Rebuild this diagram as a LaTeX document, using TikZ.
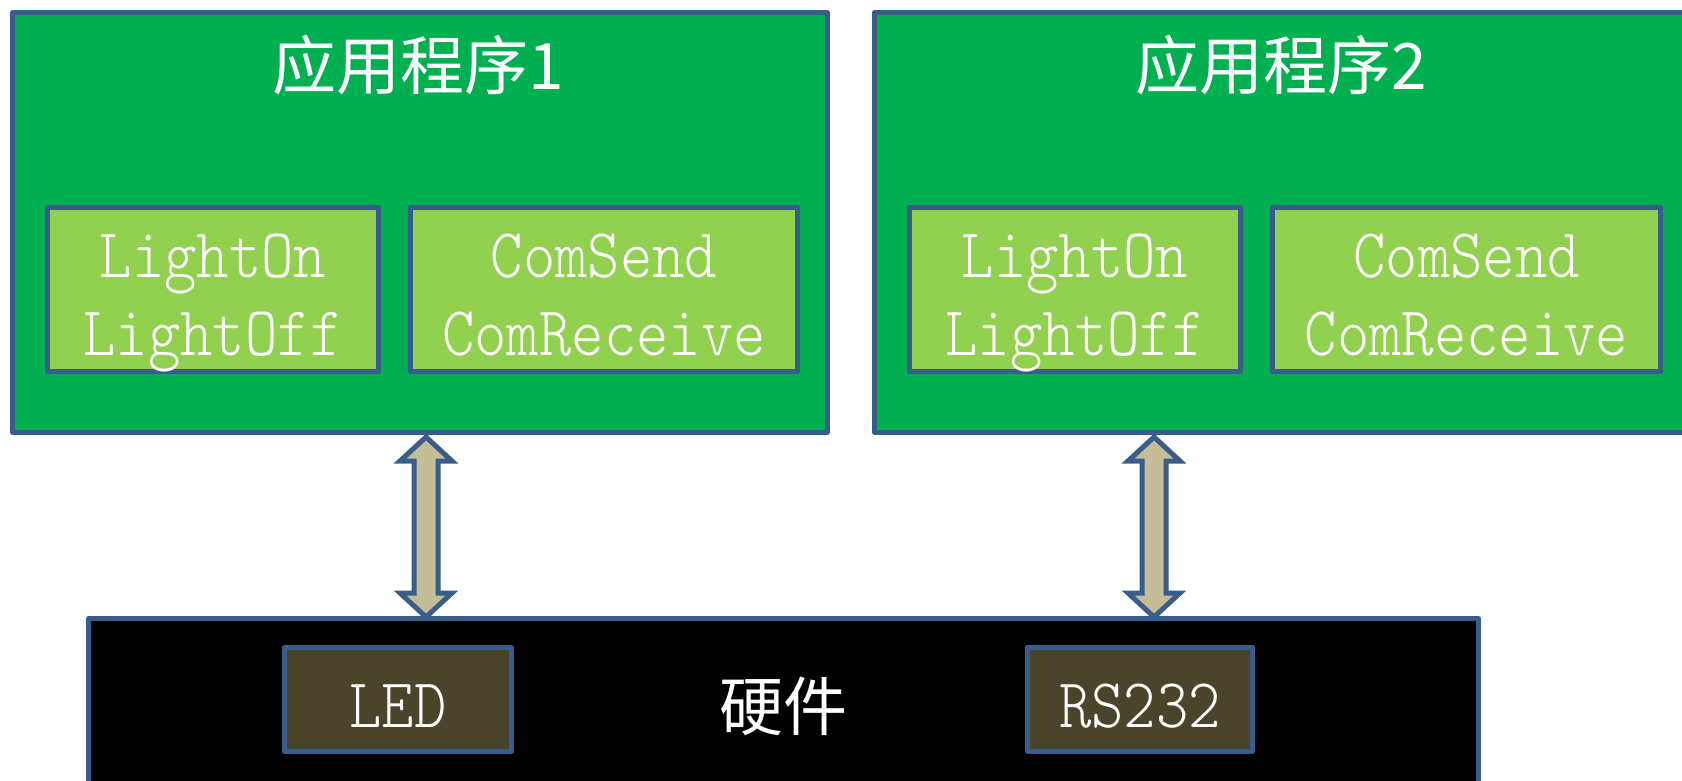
\documentclass[tikz,border=0pt]{standalone}
\usepackage{fontspec}
\newfontfamily\cjk{Noto Sans CJK SC}
\newfontfamily\monofont{Latin Modern Mono Light}[FakeStretch=0.88]
\usetikzlibrary{calc}

\definecolor{edgeblue}{HTML}{385D8A}
\definecolor{appgreen}{HTML}{00B050}
\definecolor{funcgreen}{HTML}{92D050}
\definecolor{arrowtan}{HTML}{C4BD97}
\definecolor{devolive}{HTML}{4A452A}

\tikzset{
  boxbase/.style={draw=edgeblue, line width=2.5pt, line join=round,
    inner sep=0pt, outer sep=0pt, rectangle},
  appbox/.style={boxbase, fill=appgreen},
  funcbox/.style={boxbase, fill=funcgreen},
  hwbox/.style={boxbase, fill=black},
  devbox/.style={boxbase, fill=devolive},
  titletext/.style={text=white, inner sep=0pt, font=\cjk\fontsize{32}{36}\selectfont},
  codetext/.style={text=white, inner sep=0pt, anchor=base,
    font=\monofont\fontsize{35}{40}\selectfont},
  linkarrow/.style={draw=edgeblue, fill=arrowtan, line width=2.5pt, line join=miter},
  pics/dblarrow/.style={code={
    \draw[linkarrow] (0,0) -- ++(26,24) -- ++(-14,0) -- ++(0,132) -- ++(14,0)
      -- ++(-26,24) -- ++(-26,-24) -- ++(14,0) -- ++(0,-132) -- ++(-14,0) -- cycle;
  }}
}

\begin{document}
\begin{tikzpicture}[x=0.5pt, y=-0.5pt]
\useasboundingbox (0,0) rectangle (1682,781);

% application blocks
\node[appbox, minimum width=407.25pt, minimum height=210pt] (app1) at (419.75,222.5) {};
\node[appbox, minimum width=407pt, minimum height=210pt] (app2) at (1281.5,222.5) {};
\node[titletext] (app1title) at (418,65) {应用程序1};
\node[titletext] (app2title) at (1281,65) {应用程序2};

% function blocks inside the applications
\node[funcbox, minimum width=165.5pt, minimum height=82pt] (led1) at (213,289.5) {};
\node[funcbox, minimum width=193.5pt, minimum height=82pt] (com1) at (604,289.5) {};
\node[funcbox, minimum width=165.5pt, minimum height=82pt] (led2) at (1075,289.5) {};
\node[funcbox, minimum width=194pt, minimum height=82pt] (com2) at (1466.5,289.5) {};

\node[codetext] (led1a) at (213,278) {LightOn};
\node[codetext] (led1b) at (213,355) {LightOff};
\node[codetext] (com1a) at (604,278) {ComSend};
\node[codetext] (com1b) at (604,355) {ComReceive};
\node[codetext] (led2a) at (1075,278) {LightOn};
\node[codetext] (led2b) at (1075,355) {LightOff};
\node[codetext] (com2a) at (1466.5,278) {ComSend};
\node[codetext] (com2b) at (1466.5,355) {ComReceive};

% hardware layer
\node[hwbox, minimum width=695pt, minimum height=100.75pt] (hw) at (783.5,719.25) {};
\node[titletext] (hwtitle) at (783.5,706) {硬件};
\node[devbox, minimum width=113.5pt, minimum height=52pt] (led) at (398,699.5) {};
\node[devbox, minimum width=112.5pt, minimum height=52pt] (rs) at (1140,699.5) {};
\node[codetext] (ledtext) at (398,727) {LED};
\node[codetext] (rstext) at (1140,727) {RS232};

% two-way links between applications and hardware
\coordinate (link1) at ($(app1.south -| 426,0)+(0,4.5)$);
\coordinate (link2) at ($(app2.south -| 1154,0)+(0,4.5)$);
\pic at (link1) {dblarrow};
\pic at (link2) {dblarrow};
\end{tikzpicture}
\end{document}
